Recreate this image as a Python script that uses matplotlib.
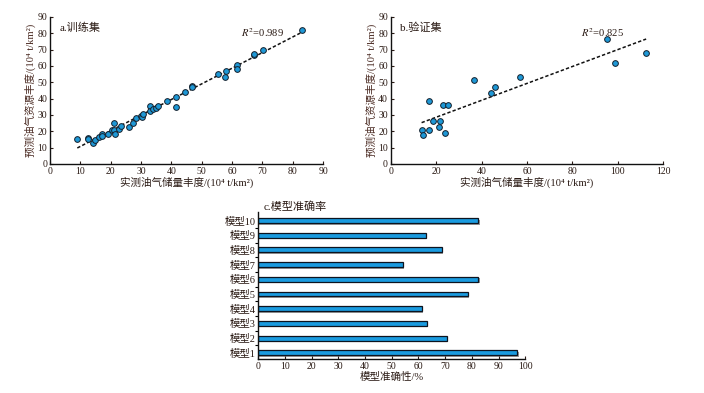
import matplotlib
matplotlib.use("Agg")
import matplotlib.pyplot as plt
import numpy as np

plt.rcParams['font.family'] = ['Liberation Serif', 'Noto Sans CJK SC']
plt.rcParams['mathtext.fontset'] = 'stix'
plt.rcParams['axes.unicode_minus'] = False

TXT = '#2a1a14'
LAB = '#4a2a22'

# a. 训练集 (实测, 预测)
train_x = [9.0, 12.4, 12.6, 14.3, 14.8, 16.2, 17.0, 17.2, 19.2, 20.3, 21.1, 21.2, 21.3,
           22.8, 23.3, 25.9, 27.4, 28.5, 30.0, 30.2, 30.7, 32.8, 33.0, 34.0, 34.9, 35.7,
           38.4, 41.4, 41.4, 44.5, 46.9, 46.9, 55.4, 58.0, 57.8, 61.5, 61.5, 67.2, 67.2,
           70.3, 83.2]
train_y = [15.1, 15.9, 15.3, 12.9, 14.9, 16.3, 18.2, 16.9, 18.6, 20.6, 20.8, 25.1, 18.6,
           21.4, 23.1, 22.7, 25.1, 27.8, 29.2, 28.6, 30.8, 35.7, 32.4, 33.3, 34.3, 35.5,
           38.4, 41.0, 35.1, 44.1, 47.8, 46.9, 55.1, 56.7, 53.5, 60.4, 58.4, 66.5, 67.1,
           69.6, 82.2]

# b. 验证集
valid_x = [13.6, 14.2, 17.0, 17.0, 18.5, 21.3, 21.7, 23.2, 24.1, 25.2, 36.8, 44.0, 46.1,
           57.1, 95.2, 98.9, 112.5]
valid_y = [20.6, 17.6, 38.2, 20.8, 26.1, 22.4, 26.3, 36.1, 19.0, 36.1, 51.2, 43.3, 47.1,
           53.3, 76.7, 62.0, 68.0]

# c. 模型准确率
models = ['模型1', '模型2', '模型3', '模型4', '模型5', '模型6', '模型7', '模型8', '模型9', '模型10']
accuracy = [97.1, 70.6, 63.1, 61.4, 78.4, 82.5, 54.2, 68.9, 62.8, 82.5]

xlabel = '实测油气储量丰度/(10⁴ t/km²)'
ylabel = '预测油气资源丰度/(10⁴ t/km²)'

fig = plt.figure(figsize=(7.04, 3.93), dpi=100)


def style(ax):
    for s in ['top', 'right']:
        ax.spines[s].set_visible(False)
    for s in ['left', 'bottom']:
        ax.spines[s].set_linewidth(1.0)
        ax.spines[s].set_color('#111111')
    ax.tick_params(direction='in', length=2.5, width=0.8, labelsize=7, colors=TXT, pad=2)


def scatter_panel(rect, xs, ys, xmax, xticks, tag, r2):
    ax = fig.add_axes(rect)
    style(ax)
    xs = np.array(xs)
    ys = np.array(ys)
    k, b = np.polyfit(xs, ys, 1)
    lx = np.array([xs.min(), xs.max()])
    ax.plot(lx, k * lx + b, color='#111111', lw=1.1, ls=(0, (2.2, 1.4)), zorder=2)
    ax.scatter(xs, ys, s=17, color='#1e98d6', edgecolor='#14202c', linewidth=0.7, zorder=3)
    ax.set_xlim(0, xmax)
    ax.set_ylim(0, 90)
    ax.set_xticks(xticks)
    ax.set_yticks(np.arange(0, 91, 10))
    ax.set_xlabel(xlabel, fontsize=7.6, color=TXT, labelpad=1)
    ax.set_ylabel(ylabel, fontsize=7.6, color=LAB, labelpad=1)
    ax.text(0.035, 0.96, tag, transform=ax.transAxes, fontsize=8, color=TXT, va='top')
    ax.text(0.70, 0.94, '$R^2$=' + r2, transform=ax.transAxes, fontsize=7.6, color=TXT, va='top')
    return ax


scatter_panel([0.071, 0.583, 0.388, 0.374], train_x, train_y, 90,
              np.arange(0, 91, 10), 'a.训练集', '0.989')
scatter_panel([0.555, 0.583, 0.387, 0.374], valid_x, valid_y, 120,
              np.arange(0, 121, 20), 'b.验证集', '0.825')

ax = fig.add_axes([0.367, 0.0865, 0.379, 0.3745])
style(ax)
pos = np.arange(len(models))
ax.barh(pos - 0.1, accuracy, height=0.34, left=0.4, color='#9a9a9a', zorder=1)
ax.barh(pos, accuracy, height=0.34, color='#1a9be0', edgecolor='#0c1420', linewidth=0.9, zorder=2)
ax.set_xlim(0, 100)
ax.set_ylim(-0.43, 9.6)
ax.set_xticks(np.arange(0, 101, 10))
ax.set_yticks(pos)
ax.set_yticklabels(models)
ax.tick_params(axis='y', length=0, pad=2, labelsize=7.5)
ax.set_yticks(pos[:-1] + 0.5, minor=True)
ax.tick_params(axis='y', which='minor', direction='out', length=2.5, width=0.8)
ax.set_xlabel('模型准确性/%', fontsize=7.6, color=TXT, labelpad=1)
ax.text(0.02, 1.0, 'c.模型准确率', transform=ax.transAxes, fontsize=8, color=TXT, va='bottom')

fig.savefig('out.png', dpi=100)
